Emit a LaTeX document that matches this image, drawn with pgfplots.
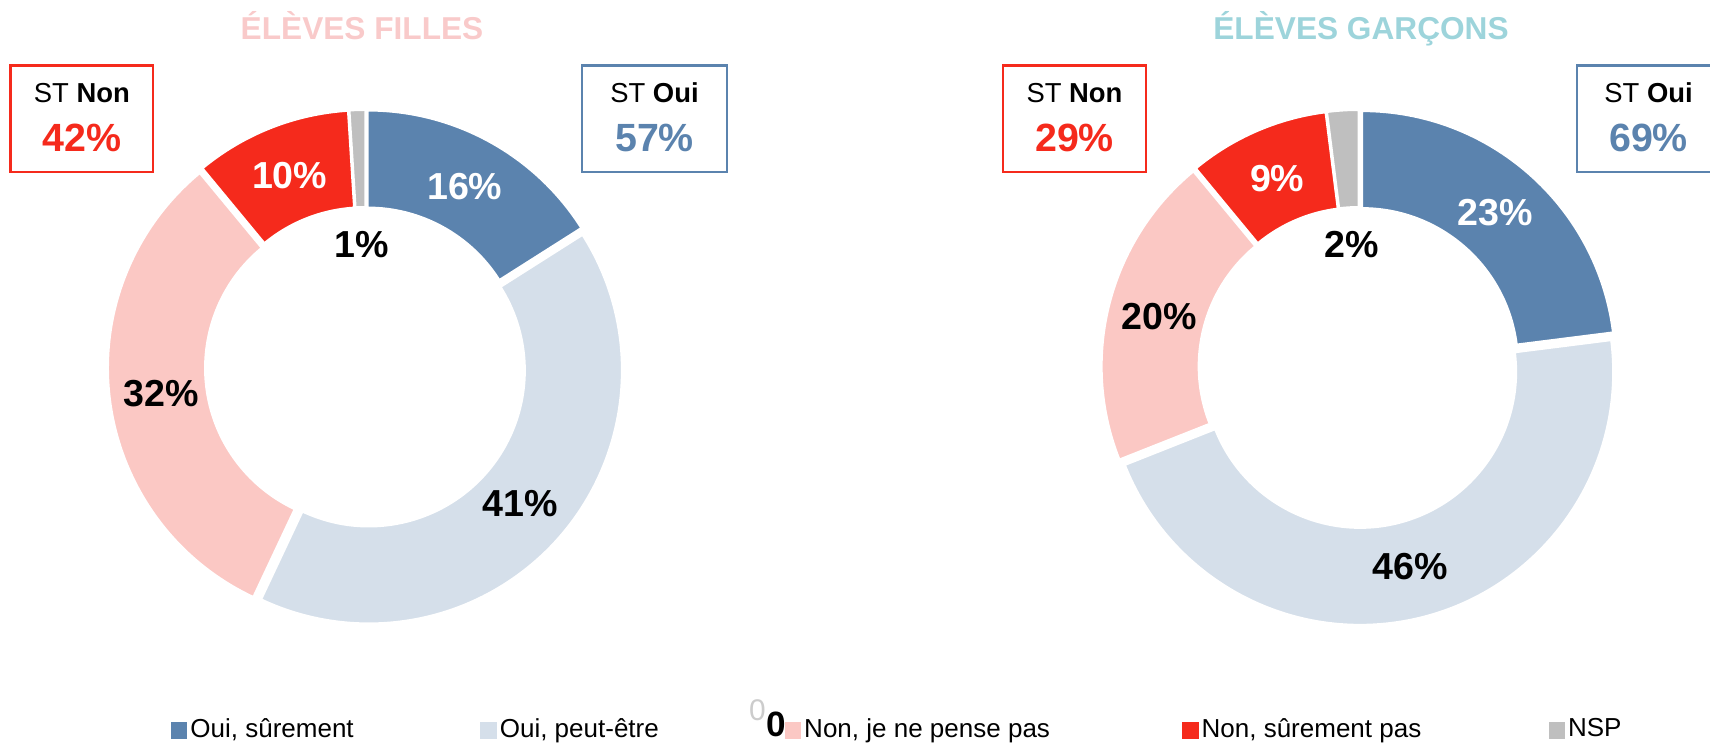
\documentclass[border=0pt]{standalone}
\usepackage{pgfplots}
\pgfplotsset{compat=1.18}
\usepackage{pgfplotstable}
\usepackage{fontspec}
\setmainfont{Liberation Sans}

\definecolor{c0}{HTML}{5B83AE}
\definecolor{c1}{HTML}{D5DFEA}
\definecolor{c2}{HTML}{FBC8C4}
\definecolor{c3}{HTML}{F52A1C}
\definecolor{c4}{HTML}{BFBFBF}
\definecolor{titlepink}{HTML}{F9CACA}
\definecolor{titleteal}{HTML}{9DD4DB}
\colorlet{l0}{white}
\colorlet{l1}{black}
\colorlet{l2}{black}
\colorlet{l3}{white}
\colorlet{l4}{black}

\newcommand\lblfont{\fontsize{10.7}{12}\selectfont\bfseries}
\newcommand\titlefont{\fontsize{9}{10}\selectfont\bfseries}
\newcommand\stfont{\fontsize{7.8}{9}\selectfont}
\newcommand\pctfont{\fontsize{11.2}{12}\selectfont\bfseries}
\newcommand\legfont{\fontsize{7.4}{8}\selectfont}

% Élèves filles
\pgfplotstableread{
cat value
OuiS 16
OuiP 41
NonP 32
NonS 10
NSP 1
}\filles
% Élèves garçons
\pgfplotstableread{
cat value
OuiS 23
OuiP 46
NonP 20
NonS 9
NSP 2
}\garcons

\def\Ro{2.53}\def\Ri{1.56}\def\Ex{0.045}\def\Rl{2.06}\def\Rs{1.23}

\newcommand\prepdonut[4]{%
  \xdef\cum{0}%
  \pgfplotsforeachungrouped \i in {0,1,2,3,4}{%
    \pgfplotstablegetelem{\i}{value}\of{#1}%
    \edef\v{\pgfplotsretval}%
    \pgfmathsetmacro\aA{90-3.6*\cum}%
    \pgfmathsetmacro\aB{90-3.6*(\cum+\v)}%
    \pgfmathsetmacro\am{(\aA+\aB)/2}%
    \pgfmathsetmacro\ox{#3+\Ex*cos(\am)}%
    \pgfmathsetmacro\oy{#4+\Ex*sin(\am)}%
    \pgfmathparse{\v<3 ? \Rs : \Rl}\let\lr\pgfmathresult
    \pgfmathsetmacro\lx{#3+\lr*cos(\am)}%
    \pgfmathsetmacro\ly{#4+\lr*sin(\am)}%
    \expandafter\xdef\csname #2aA\i\endcsname{\aA}%
    \expandafter\xdef\csname #2aB\i\endcsname{\aB}%
    \expandafter\xdef\csname #2ox\i\endcsname{\ox}%
    \expandafter\xdef\csname #2oy\i\endcsname{\oy}%
    \expandafter\xdef\csname #2lx\i\endcsname{\lx}%
    \expandafter\xdef\csname #2ly\i\endcsname{\ly}%
    \expandafter\xdef\csname #2v\i\endcsname{\v}%
    \pgfmathsetmacro\cum{\cum+\v}\xdef\cum{\cum}%
  }%
}

\newcommand\drawslice[2]{%
  \edef\tmp{\noexpand\fill[c#2, draw=white, line width=0.2mm]
    ({\csname #1ox#2\endcsname+\Ro*cos(\csname #1aA#2\endcsname)},{\csname #1oy#2\endcsname+\Ro*sin(\csname #1aA#2\endcsname)})
    arc[start angle=\csname #1aA#2\endcsname, end angle=\csname #1aB#2\endcsname, radius=\Ro]
    -- ({\csname #1ox#2\endcsname+\Ri*cos(\csname #1aB#2\endcsname)},{\csname #1oy#2\endcsname+\Ri*sin(\csname #1aB#2\endcsname)})
    arc[start angle=\csname #1aB#2\endcsname, end angle=\csname #1aA#2\endcsname, radius=\Ri] -- cycle;
    \noexpand\node[font=\noexpand\lblfont, text=l#2] at (\csname #1lx#2\endcsname,\csname #1ly#2\endcsname) {\csname #1v#2\endcsname\noexpand\%};}%
  \tmp}

\newcommand\legsq[1]{\addlegendimage{legend image code/.code={\fill[#1] (0mm,-0.75mm) rectangle (1.5mm,0.75mm); \path (1.8mm,0mm);}}}

\prepdonut{\filles}{F}{3.655}{3.755}
\prepdonut{\garcons}{G}{13.59}{3.755}

\begin{document}
\begin{tikzpicture}
\useasboundingbox (0,0) rectangle (17.1,7.43);
\begin{axis}[
  x=1cm, y=1cm, xmin=0, xmax=17.1, ymin=0, ymax=7.43,
  disabledatascaling, hide axis, clip=false,
  legend columns=5, legend cell align=left,
  legend style={at={(0.1,0.0168)}, anchor=west, draw=none, fill=none,
    inner sep=0pt, outer sep=0pt, font=\legfont,
    nodes={inner sep=0pt, outer sep=0pt}, column sep=0pt},
]
\pgfplotsinvokeforeach{0,1,2,3,4}{\drawslice{F}{#1}\drawslice{G}{#1}}

% titles
\node[anchor=base, font=\titlefont, text=titlepink] at (3.62,7.03) {ÉLÈVES FILLES};
\node[anchor=base, font=\titlefont, text=titleteal] at (13.61,7.03) {ÉLÈVES GARÇONS};

% summary boxes
\draw[c3, line width=0.25mm] (0.107,5.71) rectangle (1.53,6.775);
\node[anchor=base, font=\stfont] at (0.819,6.40) {ST \textbf{Non}};
\node[anchor=base, font=\pctfont, text=c3] at (0.819,5.91) {42\%};
\draw[c0, line width=0.25mm] (5.82,5.71) rectangle (7.27,6.775);
\node[anchor=base, font=\stfont] at (6.545,6.40) {ST \textbf{Oui}};
\node[anchor=base, font=\pctfont, text=c0] at (6.545,5.91) {57\%};
\draw[c3, line width=0.25mm] (10.03,5.71) rectangle (11.46,6.775);
\node[anchor=base, font=\stfont] at (10.745,6.40) {ST \textbf{Non}};
\node[anchor=base, font=\pctfont, text=c3] at (10.745,5.91) {29\%};
\draw[c0, line width=0.25mm] (15.77,5.71) rectangle (17.20,6.775);
\node[anchor=base, font=\stfont] at (16.485,6.40) {ST \textbf{Oui}};
\node[anchor=base, font=\pctfont, text=c0] at (16.485,5.91) {69\%};

% stray label in the legend
\node[anchor=base east, inner sep=0pt, text=gray!40, font=\fontsize{8.5}{9}\selectfont] at (7.665,0.22) {0};
\node[anchor=base east, inner sep=0pt, font=\fontsize{10}{11}\selectfont\bfseries] at (7.865,0.06) {0};

\legsq{c0}\addlegendentry{\makebox[29.0mm][l]{Oui, sûrement}}
\legsq{c1}\addlegendentry{\makebox[28.5mm][l]{Oui, peut-être}}
\legsq{c2}\addlegendentry{\makebox[37.8mm][l]{Non, je ne pense pas}}
\legsq{c3}\addlegendentry{\makebox[34.7mm][l]{Non, sûrement pas}}
\legsq{c4}\addlegendentry{NSP}
\end{axis}
\end{tikzpicture}
\end{document}
